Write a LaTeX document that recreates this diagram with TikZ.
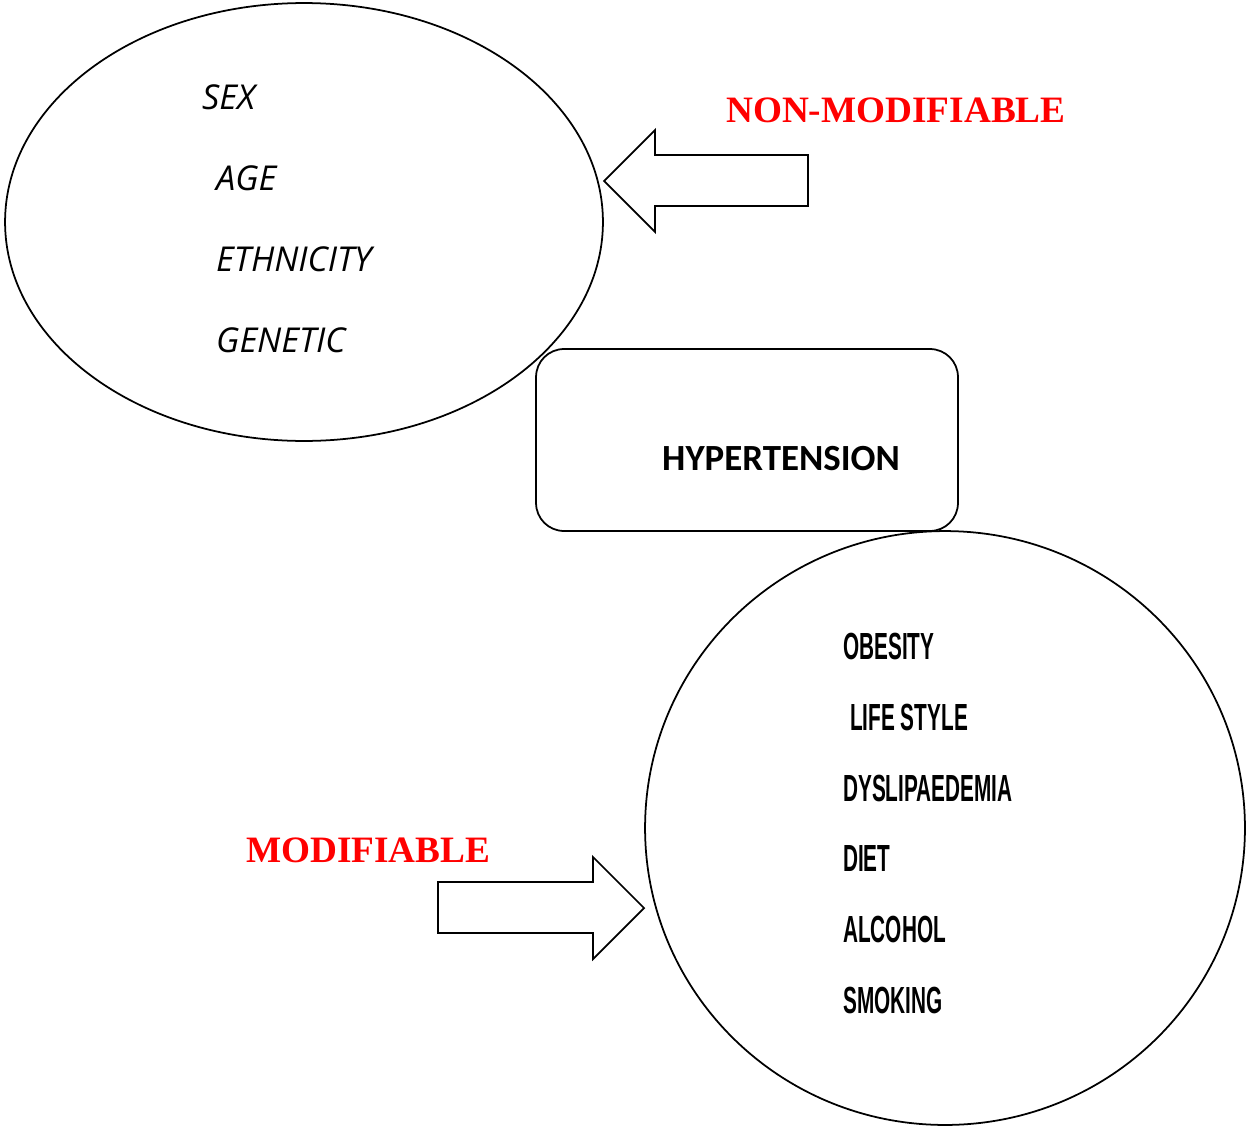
\documentclass[tikz,border=0pt]{standalone}
\usepackage{fontspec}
\usetikzlibrary{shapes.geometric}
\newfontfamily\handfont{Open Sans}
\newfontfamily\narrowfont[FakeStretch=0.55]{Liberation Sans}
\newfontfamily\calfont{Carlito}
\newfontfamily\timesfont{Liberation Serif}
\tikzset{
  outline/.style={draw=black, line width=1pt},
  oldrisk/.style={anchor=west, font=\handfont\itshape\fontsize{19.5}{22}\selectfont},
  newrisk/.style={anchor=west, font=\narrowfont\bfseries\fontsize{21.5}{24}\selectfont},
  heading/.style={text=red, font=\timesfont\bfseries\fontsize{21.2}{24}\selectfont}
}
\begin{document}
\begin{tikzpicture}[x=0.02cm, y=-0.02cm]
    \useasboundingbox (0,0) rectangle (1246,1129);
    % non-modifiable factors
    \node[outline, ellipse, minimum width=11.96cm, minimum height=8.76cm, inner sep=0pt] (fixed) at (304,222) {};
    \node[oldrisk] (sex) at (196,97) {SEX};
    \node[oldrisk] (age) at (210,178) {AGE};
    \node[oldrisk] (ethnic) at (210,259) {ETHNICITY};
    \node[oldrisk] (genetic) at (210,340) {GENETIC};
    \node[heading, anchor=west] (nonmod) at (720,110) {NON-MODIFIABLE};
    \draw[outline, line join=miter] (604,181) -- (655,130) -- (655,155) -- (808,155)
        -- (808,206) -- (655,206) -- (655,232) -- cycle;
    % hypertension box
    \node[outline, fill=white, rounded corners=0.56cm, minimum width=8.44cm, minimum height=3.64cm] (hyper) at (747,440) {};
    \node[font=\calfont\bfseries\fontsize{21}{24}\selectfont, anchor=west] (hypertext) at (656,459) {HYPERTENSION};
    % modifiable factors
    \node[outline, ellipse, minimum width=12cm, minimum height=11.88cm, inner sep=0pt] (changeable) at (945,828) {};
    \node[newrisk] (obesity) at (837,646) {OBESITY};
    \node[newrisk] (lifestyle) at (844,717) {LIFE STYLE};
    \node[newrisk] (dyslip) at (837,788) {DYSLIPAEDEMIA};
    \node[newrisk] (diet) at (837,858) {DIET};
    \node[newrisk] (alcohol) at (837,929) {ALCOHOL};
    \node[newrisk] (smoking) at (837,1000) {SMOKING};
    \node[heading, anchor=west] (mod) at (240,850) {MODIFIABLE};
    \draw[outline, line join=miter] (644,908) -- (593,857) -- (593,882) -- (438,882)
        -- (438,933) -- (593,933) -- (593,959) -- cycle;
\end{tikzpicture}
\end{document}
